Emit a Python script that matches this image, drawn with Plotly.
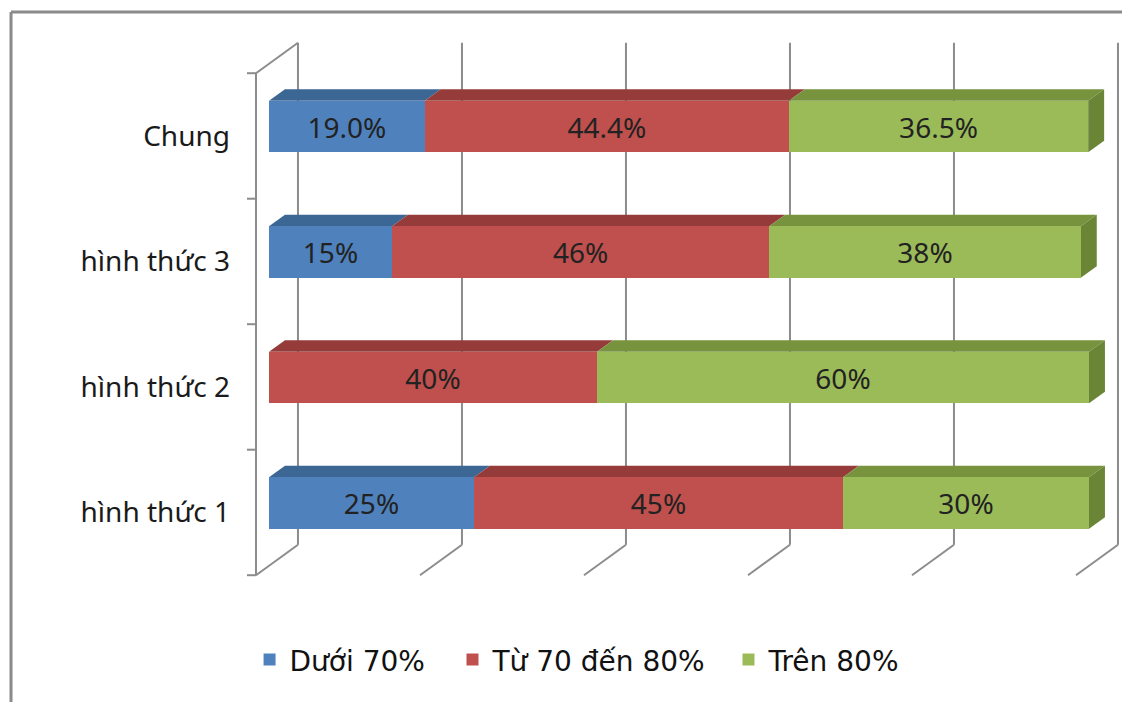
import plotly.graph_objects as go

# ---- data -------------------------------------------------------------
categories = ["hình thức 1", "hình thức 2", "hình thức 3", "Chung"]
duoi_70 = [25, None, 15, 19.0]          # "Dưới 70%"
tu_70_den_80 = [45, 40, 46, 44.4]       # "Từ 70 đến 80%"
tren_80 = [30, 60, 38, 36.5]            # "Trên 80%"
label_formats = ["%{x:.0f}%", "%{x:.0f}%", "%{x:.0f}%", "%{x:.1f}%"]
grid_ticks = [0, 20, 40, 60, 80, 100]

series = [
    ("Dưới 70%", duoi_70, "#4F81BD", "#3C6694", None),
    ("Từ 70 đến 80%", tu_70_den_80, "#C0504D", "#953C3A", None),
    ("Trên 80%", tren_80, "#9BBB59", "#77933E", "#6A8536"),
]

# one legend box per series so the entries can be spaced independently
LEGEND_X = [0.0052, 0.2366, 0.5513]

# ---- pseudo-3D geometry (data units) ----------------------------------
DEPTH_X = 5.12      # full box depth along x (percent units)
DEPTH_Y = 0.243     # full box depth along y (category units)
BAR_FRONT = 0.31    # depth fraction of the bar front plane
BAR_BACK = 0.69     # depth fraction of the bar back plane
BAR_W = 0.41
HALF = BAR_W / 2
GRID_COLOR = "#8C8C8C"


def project(p, v, f):
    """Map (value, category position, depth fraction) to axis coordinates."""
    return p + (f - BAR_FRONT) * DEPTH_X, v + (f - BAR_FRONT) * DEPTH_Y


def poly(points):
    return "M" + " L".join(f"{x:.4f},{y:.4f}" for x, y in points) + " Z"


fig = go.Figure()
shapes = []

ypos = list(range(len(categories)))
v_lo, v_hi = -0.5, len(categories) - 0.5

# back wall gridlines and floor diagonals
for g in grid_ticks:
    shapes.append(dict(type="line", xref="x", yref="y", layer="below",
                       x0=project(g, v_lo, 1)[0], y0=project(g, v_lo, 1)[1],
                       x1=project(g, v_hi, 1)[0], y1=project(g, v_hi, 1)[1],
                       line=dict(color=GRID_COLOR, width=2)))
    shapes.append(dict(type="line", xref="x", yref="y", layer="below",
                       x0=project(g, v_lo, 1)[0], y0=project(g, v_lo, 1)[1],
                       x1=project(g, v_lo, 0)[0], y1=project(g, v_lo, 0)[1],
                       line=dict(color=GRID_COLOR, width=2)))

# left wall: front edge, top edge, and category boundary ticks
fx0, fy0 = project(0, v_lo, 0)
fx1, fy1 = project(0, v_hi, 0)
shapes.append(dict(type="line", xref="x", yref="y", layer="below",
                   x0=fx0, y0=fy0, x1=fx1, y1=fy1,
                   line=dict(color=GRID_COLOR, width=2)))
bx1, by1 = project(0, v_hi, 1)
shapes.append(dict(type="line", xref="x", yref="y", layer="below",
                   x0=fx1, y0=fy1, x1=bx1, y1=by1,
                   line=dict(color=GRID_COLOR, width=2)))
for k in range(len(categories) + 1):
    tx, ty = project(0, v_lo + k, 0)
    shapes.append(dict(type="line", xref="x", yref="y", layer="below",
                       x0=tx - 1.1, y0=ty, x1=tx, y1=ty,
                       line=dict(color=GRID_COLOR, width=2)))

# bars (front faces) plus their top and end faces
bases = [0.0] * len(categories)
legend_defs = {}
for idx, (name, values, color, top_color, side_color) in enumerate(series):
    legend_id = "legend" if idx == 0 else f"legend{idx + 1}"
    legend_defs[legend_id] = dict(
        orientation="h", x=LEGEND_X[idx], xanchor="left", y=0.06,
        yanchor="middle",
        font=dict(family="DejaVu Sans", size=28, color="#111111"),
        bgcolor="rgba(0,0,0,0)")
    fig.add_trace(go.Bar(
        name=name, x=values, y=ypos, orientation="h", width=BAR_W,
        legend=legend_id,
        marker=dict(color=color, line=dict(width=0)),
        texttemplate=label_formats, textposition="inside",
        insidetextanchor="middle", constraintext="none",
        textfont=dict(family="Noto Sans", size=28, color="#222222"),
        hoverinfo="skip",
    ))
    for i, val in enumerate(values):
        if not val:
            continue
        b0, b1 = bases[i], bases[i] + val
        top = ypos[i] + HALF
        bot = ypos[i] - HALF
        pts = [project(b0, top, BAR_FRONT), project(b1, top, BAR_FRONT),
               project(b1, top, BAR_BACK), project(b0, top, BAR_BACK)]
        shapes.append(dict(type="path", xref="x", yref="y", layer="below",
                           path=poly(pts), fillcolor=top_color,
                           line=dict(width=0)))
        if side_color:
            pts = [project(b1, bot, BAR_FRONT), project(b1, top, BAR_FRONT),
                   project(b1, top, BAR_BACK), project(b1, bot, BAR_BACK)]
            shapes.append(dict(type="path", xref="x", yref="y", layer="below",
                               path=poly(pts), fillcolor=side_color,
                               line=dict(width=0)))
        bases[i] = b1

# outer chart frame
FRAME_X = -0.2668
FRAME_Y = 0.9829
shapes.append(dict(type="line", xref="paper", yref="paper",
                   x0=FRAME_X, y0=-0.01, x1=FRAME_X, y1=FRAME_Y,
                   line=dict(color="#8A8A8A", width=3)))
shapes.append(dict(type="line", xref="paper", yref="paper",
                   x0=FRAME_X, y0=FRAME_Y, x1=1.01, y1=FRAME_Y,
                   line=dict(color="#8A8A8A", width=3)))

label_pos = [project(0, v, 0)[1] for v in ypos]

fig.update_layout(
    width=1122, height=702,
    margin=dict(l=245, r=0, t=0, b=0, pad=0),
    paper_bgcolor="white", plot_bgcolor="white",
    barmode="stack",
    showlegend=True,
    hovermode=False,
    shapes=shapes,
    xaxis=dict(range=[-2.927, 104.024], visible=False, fixedrange=True),
    yaxis=dict(range=[-1.5857, 4.008], tickvals=label_pos, ticktext=categories,
               showgrid=False, zeroline=False, showline=False, ticks="",
               tickfont=dict(family="Noto Sans", size=28, color="#1A1A1A"),
               ticklabelstandoff=14, automargin=False, fixedrange=True),
    **legend_defs,
)

fig.write_html("out.html")
